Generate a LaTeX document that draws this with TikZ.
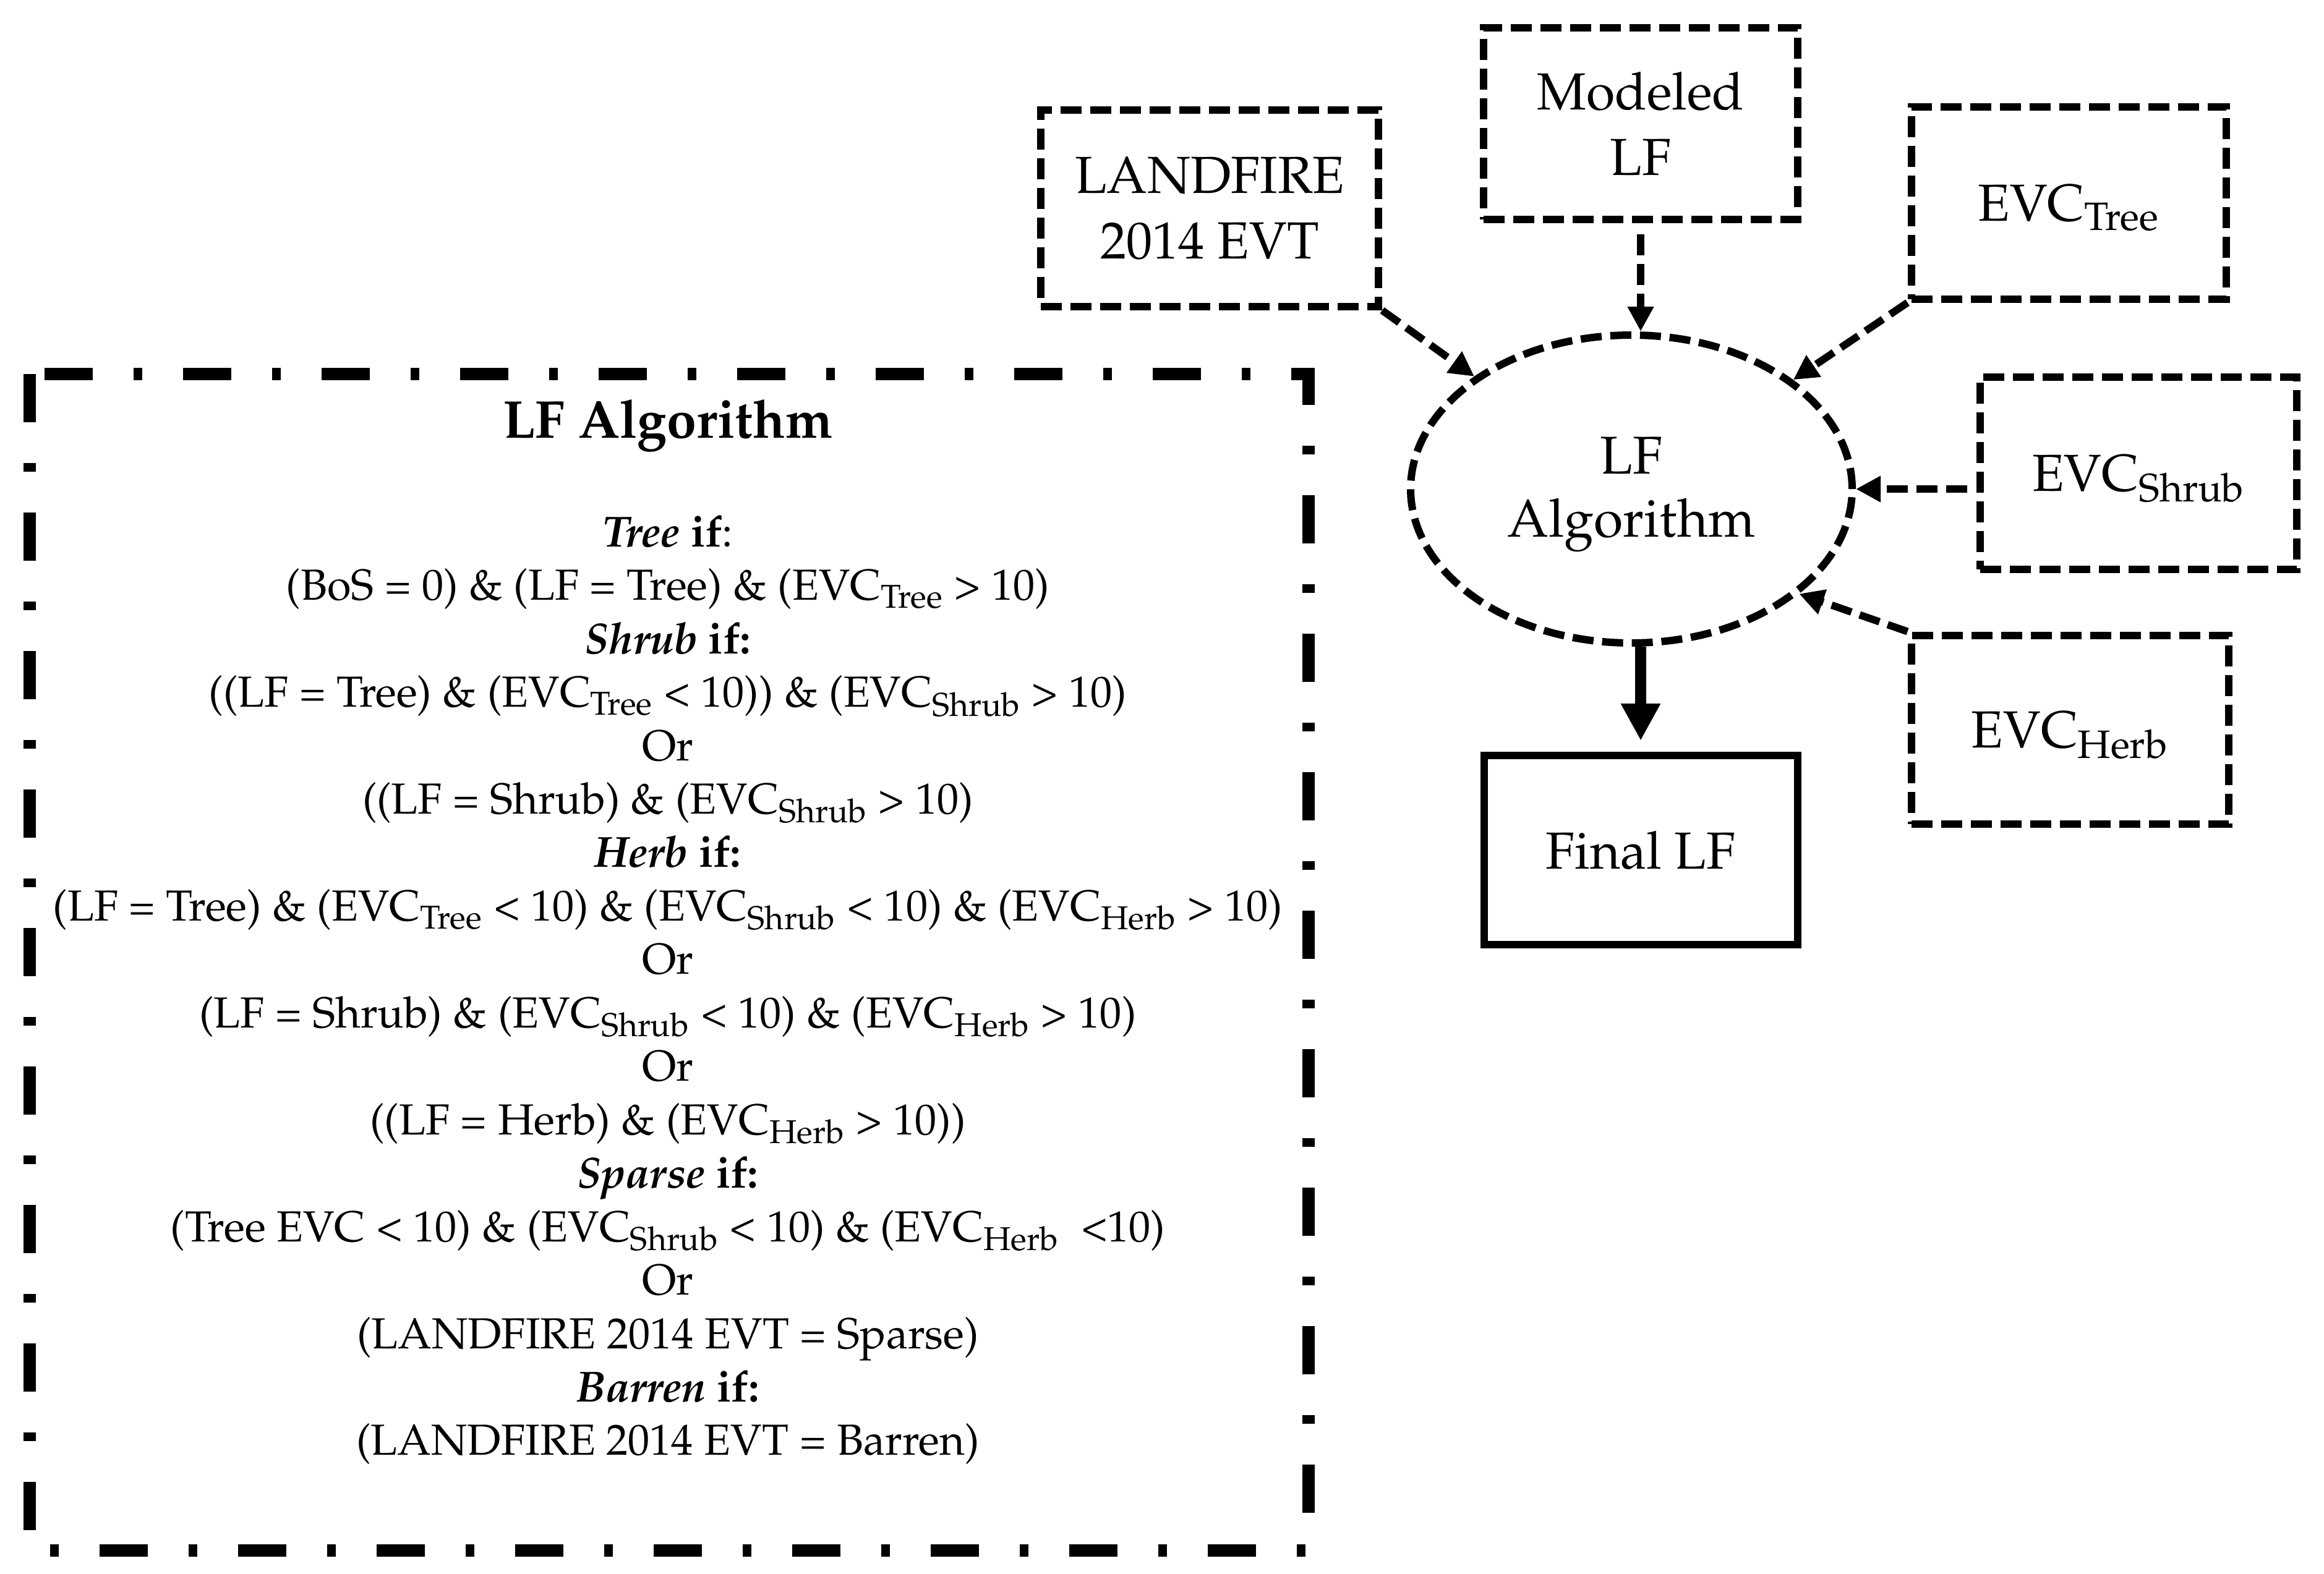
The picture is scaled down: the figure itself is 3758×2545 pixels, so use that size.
\documentclass[tikz,border=0pt]{standalone}
\usepackage[T1]{fontenc}
\usepackage{mathpazo}
\usetikzlibrary{arrows.meta,shapes.geometric,positioning}

\newcommand{\evc}[1]{EVC\textsubscript{#1}}

\begin{document}
\begin{tikzpicture}[x=0.1mm, y=-0.1mm,
  inbox/.style={draw, line width=1.2mm, dash pattern=on 3.4mm off 1.4mm,
    align=center, font=\fontsize{24}{30}\selectfont},
  outbox/.style={draw, line width=1.2mm, align=center,
    font=\fontsize{24}{30}\selectfont},
  dasharrow/.style={line width=1.2mm, dash pattern=on 3.4mm off 1.4mm,
    -{Triangle[length=4mm,width=4mm]}},
  mainarrow/.style={line width=1.8mm, -{Triangle[length=6mm,width=6mm]}}]
  \useasboundingbox (0,0) rectangle (3758,2545);

  % algorithm panel
  \draw[line width=2mm, dash pattern=on 7.8mm off 6.6mm on 1.4mm off 6.6mm]
    (48,605) rectangle (2116,2508);
  \node[font=\fontsize{24.5}{30}\selectfont\bfseries] (title) at (1080,688) {LF Algorithm};
  \node[align=center, font=\fontsize{20}{24.6}\selectfont] (rules) at (1080,1601) {%
    \textbf{\textit{Tree} if}:\\
    (BoS = 0) \& (LF = Tree) \& (\evc{Tree} > 10)\\
    \textbf{\textit{Shrub} if:}\\
    ((LF = Tree) \& (\evc{Tree} < 10)) \& (\evc{Shrub} > 10)\\
    Or\\
    ((LF = Shrub) \& (\evc{Shrub} > 10)\\
    \textbf{\textit{Herb} if:}\\
    (LF = Tree) \& (\evc{Tree} < 10) \& (\evc{Shrub} < 10) \& (\evc{Herb} > 10)\\
    Or\\
    (LF = Shrub) \& (\evc{Shrub} < 10) \& (\evc{Herb} > 10)\\
    Or\\
    ((LF = Herb) \& (\evc{Herb} > 10))\\
    \textbf{\textit{Sparse} if:}\\
    (Tree EVC < 10) \& (\evc{Shrub} < 10) \& (\evc{Herb}~ <10)\\
    Or\\
    (LANDFIRE 2014 EVT = Sparse)\\
    \textbf{\textit{Barren} if:}\\
    (LANDFIRE 2014 EVT = Barren)};

  % inputs
  \node[inbox, minimum width=54.6mm, minimum height=31.8mm] (landfire) at (1956,337) {LANDFIRE\\2014 EVT};
  \node[inbox, minimum width=50.8mm, minimum height=31mm] (modeled) at (2653,200) {Modeled\\LF};
  \node[inbox, text depth=0pt, minimum width=50.9mm, minimum height=31.1mm] (tree) at (3345,328) {\evc{Tree}};
  \node[inbox, text depth=0pt, minimum width=51.2mm, minimum height=31.1mm] (shrub) at (3458,765) {\evc{Shrub}};
  \node[inbox, text depth=0pt, minimum width=51.3mm, minimum height=30.5mm] (herb) at (3347,1180) {\evc{Herb}};

  \node[ellipse, draw, line width=1.2mm, dash pattern=on 3.4mm off 1.4mm,
    minimum width=71.4mm, minimum height=49.8mm] (alg) at (2638,791) {};
  \node[align=center, font=\fontsize{24.5}{29}\selectfont] (algtext) at (2638,800) {LF\\Algorithm};

  \node[outbox, minimum width=50.7mm, minimum height=30.6mm] (final) at (2653,1375) {Final LF};

  \path[dasharrow]
    (landfire.south east) edge (alg)
    (modeled.south) edge[shorten <=1.8mm] (modeled.south |- alg.north)
    (tree.south west) edge (alg)
    (alg.east -| shrub.west) edge[shorten <=1.5mm] (alg.east)
    (herb.north west) edge (alg.-32);
  \draw[mainarrow, shorten >=1.8mm] (final.north |- alg.south) -- (final.north);
\end{tikzpicture}
\end{document}
